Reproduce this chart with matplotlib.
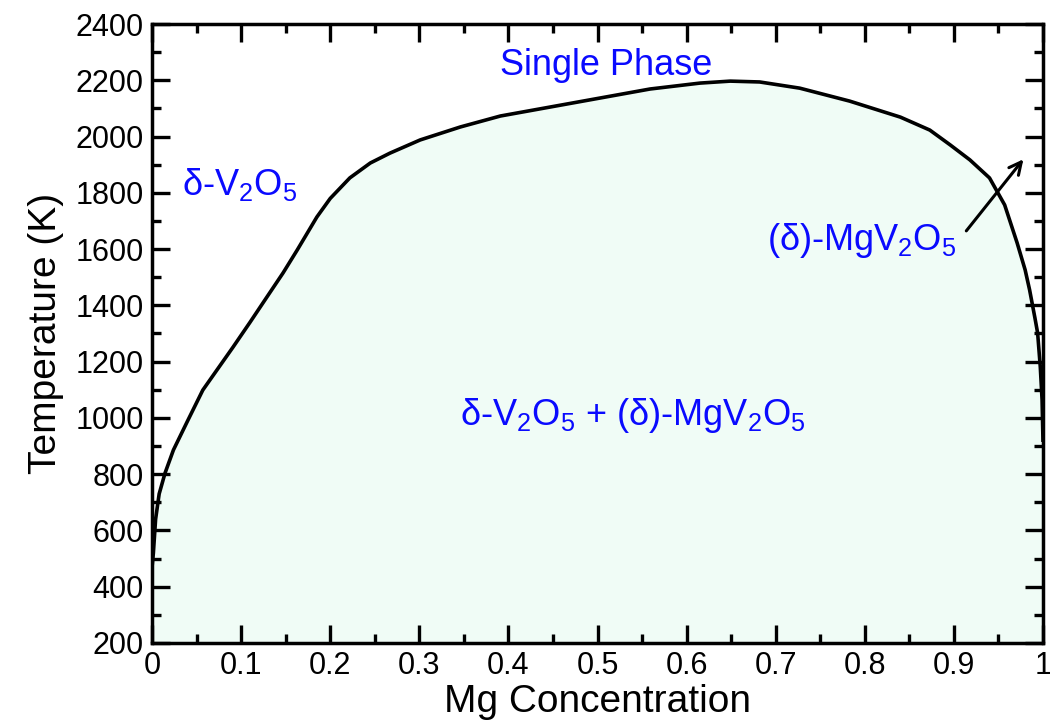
import matplotlib
matplotlib.use("Agg")
import matplotlib.pyplot as plt
from matplotlib.ticker import MultipleLocator, FixedLocator

plt.rcParams['font.family'] = ['Liberation Sans', 'DejaVu Sans']
plt.rcParams['mathtext.fontset'] = 'custom'
plt.rcParams['mathtext.rm'] = 'Liberation Sans'
plt.rcParams['mathtext.it'] = 'Liberation Sans'

# Phase boundary (Mg concentration vs temperature)
mg_conc = [0.0, 0.0015, 0.004, 0.008, 0.0146, 0.024, 0.04, 0.057, 0.075, 0.091,
           0.11, 0.129, 0.147, 0.163, 0.185, 0.20, 0.222, 0.245, 0.267, 0.301,
           0.346, 0.391, 0.447, 0.503, 0.559, 0.615, 0.649, 0.682, 0.727, 0.783,
           0.84, 0.873, 0.896, 0.918, 0.94, 0.957, 0.971, 0.98, 0.985, 0.991,
           0.994, 0.997, 0.999, 1.0]
temperature = [470, 520, 640, 730, 804, 886, 990, 1099, 1180, 1252,
               1340, 1430, 1515, 1597, 1714, 1780, 1853, 1906, 1941, 1988,
               2034, 2073, 2105, 2137, 2169, 2190, 2197, 2194, 2172, 2126,
               2069, 2023, 1970, 1917, 1853, 1757, 1622, 1526, 1455, 1355,
               1302, 1181, 1064, 921]

x_ticks = [0, 0.1, 0.2, 0.3, 0.4, 0.5, 0.6, 0.7, 0.8, 0.9, 1.0]
x_tick_labels = ['0', '0.1', '0.2', '0.3', '0.4', '0.5', '0.6', '0.7', '0.8', '0.9', '1']
y_ticks = list(range(200, 2401, 200))

fig = plt.figure(figsize=(10.5, 7.21), dpi=100)
ax = fig.add_axes([0.1448, 0.1082, 0.8485, 0.8585])

ax.fill_between(mg_conc, 200, temperature, color='#f0fcf6', lw=0, zorder=1)
ax.plot(mg_conc, temperature, color='black', lw=2.6, zorder=3,
        solid_joinstyle='round')

ax.set_xlim(0, 1)
ax.set_ylim(200, 2400)
ax.xaxis.set_major_locator(FixedLocator(x_ticks))
ax.set_xticklabels(x_tick_labels)
ax.xaxis.set_minor_locator(MultipleLocator(0.05))
ax.set_yticks(y_ticks)
ax.yaxis.set_minor_locator(MultipleLocator(100))

ax.tick_params(which='both', direction='in', top=True, right=True, width=2.4,
               labelsize=22, colors='black', pad=6)
ax.tick_params(which='major', length=13)
ax.tick_params(which='minor', length=6.5)
for s in ax.spines.values():
    s.set_linewidth(2.5)
    s.set_zorder(5)

ax.set_xlabel('Mg Concentration', fontsize=28, labelpad=2)
ax.set_ylabel('Temperature (K)', fontsize=28, labelpad=8)

blue = '#0a0aff'
ax.text(0.51, 2251, 'Single Phase', color=blue, fontsize=26, ha='center', va='center')
ax.text(0.034, 1828, r'δ-V$_2$O$_5$', color=blue, fontsize=26, ha='left', va='center')
ax.text(0.69, 1632, r'(δ)-MgV$_2$O$_5$', color=blue, fontsize=26, ha='left', va='center')
ax.text(0.54, 1010, r'δ-V$_2$O$_5$ + (δ)-MgV$_2$O$_5$', color=blue, fontsize=26,
        ha='center', va='center')

ax.annotate('', xy=(0.980, 1927), xytext=(0.912, 1657),
            arrowprops=dict(arrowstyle='->', color='black', lw=2.2,
                            mutation_scale=22), zorder=4)

fig.savefig('out.png', dpi=100)
